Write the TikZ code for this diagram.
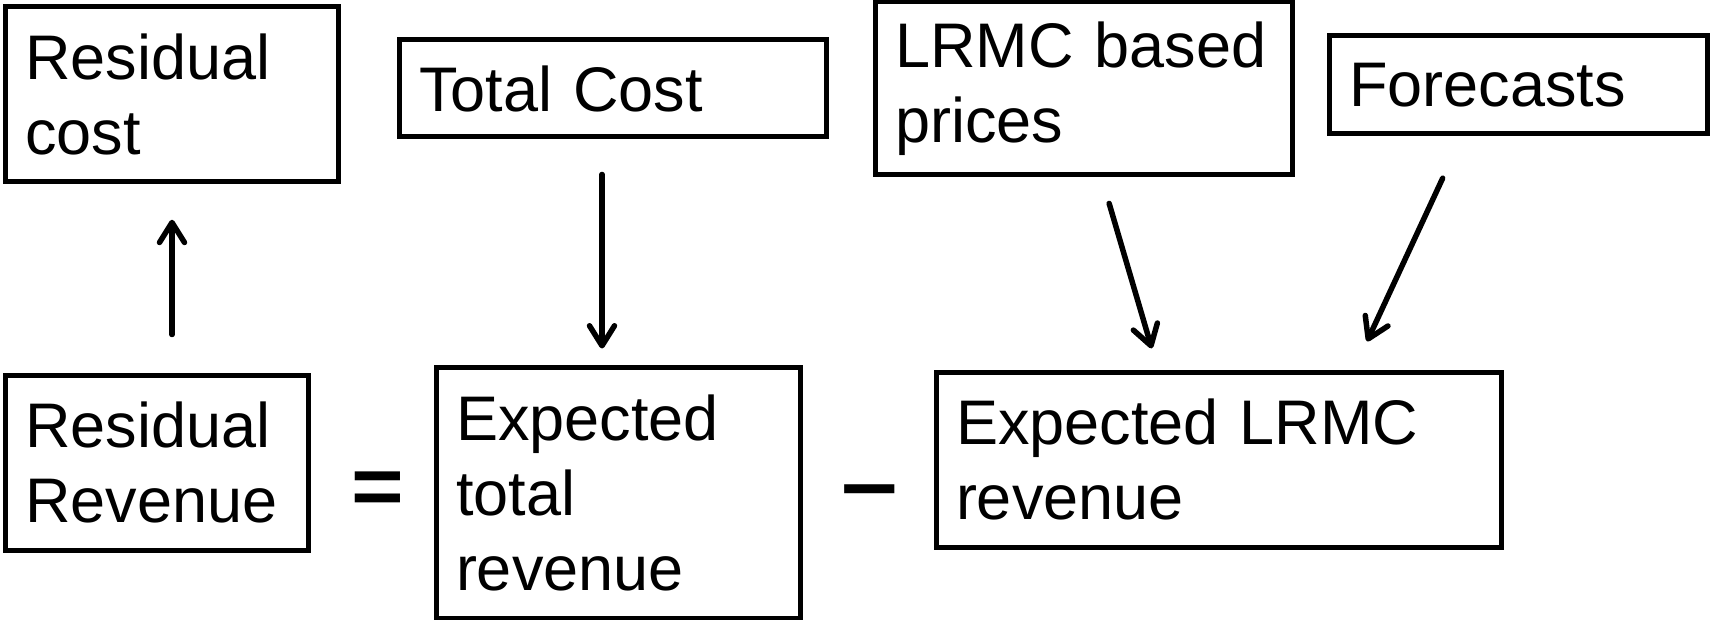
\documentclass[tikz,border=0pt]{standalone}
\usepackage{fontspec}
\usepackage{graphicx}
\setmainfont{Liberation Sans}
\usetikzlibrary{arrows.meta,positioning,calc}

\begin{document}
\begin{tikzpicture}[x=1pt,y=-1pt,
 block/.style={draw,line width=5pt,align=left,inner xsep=20pt,inner ysep=0pt,
   font=\fontsize{63}{75}\selectfont},
 sign/.style={inner sep=0pt,font=\bfseries\fontsize{82}{82}\selectfont},
 arr/.style={line width=5.5pt,line cap=round,
   -{Straight Barb[length=20pt,width=25pt,line cap=round,line join=round]}}]

  \useasboundingbox (0,0) rectangle (1711,620);

  % top row
  \node[block,text width=293.5pt,minimum height=174.5pt] (rescost) at (172,94) {Residual\\cost};
  \node[block,text width=387pt,minimum height=97pt] (totcost) at (612.5,88.5) {Total Cost};
  \node[block,text width=377pt,minimum height=173pt] (lrmc) at (1083.5,88.5) {LRMC based\\prices};
  \node[block,text width=338pt,minimum height=98pt] (forecasts) at (1518,85) {Forecasts};

  % bottom row
  \node[block,text width=263.5pt,minimum height=175pt] (resrev) at (157,462.5) {Residual\\Revenue};
  \node[block,text width=324pt,minimum height=251pt] (exptot) at (618,492.5) {Expected\\total\\revenue};
  \node[block,text width=525pt,minimum height=175pt] (explrmc) at (1218.5,459.5) {Expected LRMC\\revenue};

  \node[sign,left=29pt of exptot,yshift=-1pt] (eq) {\scalebox{1.1}[1]{=}};
  \node[sign,yshift=-8pt,xshift=2pt] (minus) at ($(exptot.east)!0.5!(exptot.east -| explrmc.west)$) {\scalebox{1.22}[1]{−}};

  % arrows
  \draw[arr,shorten <=38pt,shorten >=36pt] (rescost.south |- resrev.north) -- (rescost.south);
  \draw[arr,shorten <=35pt,shorten >=16pt] ([xshift=-10.5pt]totcost.south)
   -- ([xshift=-10.5pt]totcost.south |- exptot.north);
  \draw[arr,shorten <=27pt,shorten >=22pt] ([xshift=18pt]lrmc.south)
   -- ([xshift=-60.5pt]explrmc.north);
  \draw[arr,shorten <=46pt,shorten >=31pt] ([xshift=-56pt]forecasts.south)
   -- ([xshift=135.5pt]explrmc.north);

\end{tikzpicture}
\end{document}
